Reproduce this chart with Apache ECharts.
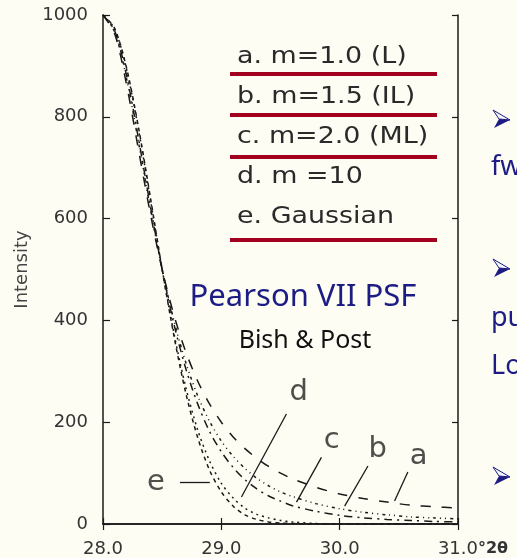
<!DOCTYPE html>
<html>
<head>
<meta charset="utf-8">
<script src="https://cdn.jsdelivr.net/npm/echarts@6/dist/echarts.min.js"></script>
<style>
  html, body { margin: 0; padding: 0; background: #fdfdf4; }
  #chart { width: 517px; height: 558px; }
</style>
</head>
<body>
<div id="chart"></div>
<script>
// Diffraction angle (°2θ) sampled along the peak flank
const twoTheta = [28.0, 28.1, 28.2, 28.3, 28.4, 28.5, 28.6, 28.7, 28.8, 28.9, 29.0, 29.1,
                  29.2, 29.3, 29.4, 29.5, 29.6, 29.8, 30.0, 30.2, 30.4, 30.6, 30.8, 31.0];

// Pearson VII profile intensities
const curveA = [1000, 962, 862, 735, 610, 500, 410, 338, 281, 236, 200, 171, 148, 129, 113, 100, 89, 72, 59, 50, 43, 37, 34, 31];
const curveB = [1000, 966, 874, 750, 620, 500, 399, 317, 252, 202, 163, 133, 109, 90, 75, 63, 54, 40, 30, 23, 18, 14, 12, 10];
const curveC = [1000, 968, 880, 757, 625, 500, 392, 305, 236, 182, 142, 111, 87, 69, 55, 45, 36, 25, 17, 12, 9, 7, 5, 4];
const curveD = [1000, 972, 892, 775, 638, 500, 374, 268, 185, 124, 80, 51, 31, 19, 12, 7, 4, 1, 0, 0, 0, 0, 0, 0];
const curveE = [1000, 973, 895, 779, 642, 500, 369, 257, 170, 106, 63, 35, 18, 9, 4, 2, 1, 0, 0, 0, 0, 0, 0, 0];

const curveNames = ['a', 'b', 'c', 'd', 'e'];
const legendLines = ['a. m=1.0 (L)', 'b. m=1.5 (IL)', 'c. m=2.0 (ML)', 'd. m =10', 'e. Gaussian'];
const axisUnit = '°2θ';

// Where each curve letter sits, and the pointer line from it to its curve
const letterSpots = [[30.667, 133, 'a'], [30.321, 147, 'b'], [29.932, 165, 'c'], [29.654, 259, 'd'], [28.447, 82, 'e']];
const pointerLines = [
  [[30.576, 102], [30.464, 45]],
  [[30.239, 114], [30.042, 35]],
  [[29.846, 131], [29.635, 43]],
  [[29.550, 216], [29.170, 53]],
  [[28.650, 82], [28.903, 82]]
];

const curveValues = [curveA, curveB, curveC, curveD, curveE];
const dashStyles = [
  [10, 11],
  [3, 4, 1, 4, 1, 4],
  [8, 5, 2, 5],
  [2, 4],
  [4, 4]
];

const ink = '#1a1a1a';
const navy = '#1c1c84';
const maroon = '#a3001f';

const lineSeries = curveValues.map((vals, i) => ({
  name: curveNames[i],
  type: 'line',
  xAxisIndex: 0,
  yAxisIndex: 0,
  data: twoTheta.map((x, k) => [x, vals[k]]),
  showSymbol: false,
  symbol: 'none',
  smooth: 0.3,
  clip: true,
  lineStyle: { color: ink, width: 1.5, type: dashStyles[i] },
  z: 3
}));

const chart = echarts.init(document.getElementById('chart'), null, { renderer: 'canvas' });

const axisText = { color: '#333', fontSize: 18, fontFamily: 'DejaVu Sans' };

const legendGraphics = [];
legendLines.forEach((t, i) => {
  legendGraphics.push({
    type: 'text',
    x: 237, y: 57 + i * 40,
    scaleX: 1.17,
    style: { text: t, font: '23px "DejaVu Sans"', fill: '#2a2a2a', align: 'left', verticalAlign: 'middle' }
  });
});
[74, 115, 157, 240].forEach(y => {
  legendGraphics.push({
    type: 'line',
    shape: { x1: 230, y1: y, x2: 437, y2: y },
    style: { stroke: maroon, lineWidth: 4 }
  });
});

// Bullet arrowheads and clipped side text
function arrowHead(cy) {
  return [
    { type: 'polygon', shape: { points: [[493, cy - 9], [510, cy + 1], [499, cy]] },
      style: { fill: '#f4f4fa', stroke: navy, lineWidth: 1 } },
    { type: 'polygon', shape: { points: [[499, cy], [510, cy + 1], [494, cy + 9]] },
      style: { fill: navy } }
  ];
}
const sideGraphics = [
  ...arrowHead(119), ...arrowHead(268), ...arrowHead(476),
  { type: 'text', x: 491, y: 167, style: { text: 'fw', font: '27px "Noto Sans"', fill: navy, align: 'left', verticalAlign: 'middle' } },
  { type: 'text', x: 491, y: 318, style: { text: 'pu', font: '27px "Noto Sans"', fill: navy, align: 'left', verticalAlign: 'middle' } },
  { type: 'text', x: 491, y: 366, style: { text: 'Lo', font: '27px "Noto Sans"', fill: navy, align: 'left', verticalAlign: 'middle' } },
  { type: 'text', x: 303, y: 297, style: { text: 'Pearson VII PSF', font: '31px "Noto Sans"', fill: navy, align: 'center', verticalAlign: 'middle' } },
  { type: 'text', x: 305, y: 341, style: { text: 'Bish & Post', font: '25px "Noto Sans"', fill: '#111', align: 'center', verticalAlign: 'middle' } }
];

chart.setOption({
  animation: false,
  backgroundColor: '#fdfdf4',
  grid: { left: 103, right: 59, top: 15, bottom: 33, containLabel: false },
  xAxis: [
    {
      type: 'value', position: 'bottom', min: 28, max: 31, interval: 1,
      axisLine: { lineStyle: { color: ink, width: 1.5 } },
      axisTick: { inside: true, length: 6, lineStyle: { color: ink, width: 1.2 } },
      axisLabel: Object.assign({
        margin: 16,
        // the last tick carries the unit right after its number
        formatter: v => v === 31 ? '{sp|}' + v.toFixed(1) + '{u|' + axisUnit + '}' : v.toFixed(1),
        rich: {
          sp: { width: 30 },
          u: { fontSize: 16, fontFamily: 'DejaVu Sans', fontWeight: 'bold', color: '#333' }
        }
      }, axisText),
      splitLine: { show: false }
    },
    {
      type: 'value', position: 'top', min: 28, max: 31, interval: 1,
      axisLine: { lineStyle: { color: ink, width: 1.5 } },
      axisTick: { inside: true, length: 6, lineStyle: { color: ink, width: 1.2 } },
      axisLabel: { show: false },
      splitLine: { show: false }
    }
  ],
  yAxis: [
    {
      type: 'value', position: 'left', min: 0, max: 1000, interval: 200,
      name: 'Intensity', nameLocation: 'middle', nameGap: 72,
      nameTextStyle: { color: '#444', fontSize: 18, fontFamily: 'DejaVu Sans' },
      axisLine: { lineStyle: { color: ink, width: 1.5 } },
      axisTick: { inside: true, length: 7, lineStyle: { color: ink, width: 1.2 } },
      axisLabel: Object.assign({ margin: 15, formatter: v => String(v) }, axisText),
      splitLine: { show: false }
    },
    {
      type: 'value', position: 'right', min: 0, max: 1000, interval: 200,
      axisLine: { lineStyle: { color: ink, width: 1.5 } },
      axisTick: { inside: true, length: 6, lineStyle: { color: ink, width: 1.2 } },
      axisLabel: { show: false },
      splitLine: { show: false }
    }
  ],
  series: [
    ...lineSeries,
    {
      type: 'scatter',
      xAxisIndex: 0, yAxisIndex: 0,
      data: letterSpots,
      symbolSize: 0,
      silent: true,
      label: {
        show: true, position: 'inside',
        formatter: p => p.value[2],
        fontSize: 29, fontFamily: 'DejaVu Sans', fontWeight: 'normal', color: '#222'
      },
      markLine: {
        silent: true,
        symbol: ['none', 'none'],
        label: { show: false },
        lineStyle: { type: 'solid', color: ink, width: 1.3 },
        data: pointerLines.map(seg => [{ coord: seg[0] }, { coord: seg[1] }])
      },
      z: 4
    }
  ],
  graphic: [...legendGraphics, ...sideGraphics]
});
</script>
</body>
</html>
